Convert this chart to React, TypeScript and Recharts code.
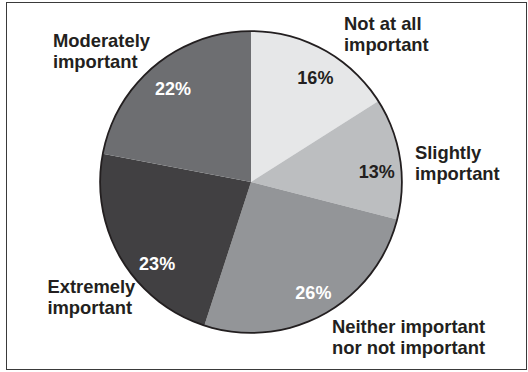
import { PieChart, Pie, Cell } from "recharts";

const CATEGORIES = [
  "Not at all important",
  "Slightly important",
  "Neither important nor not important",
  "Extremely important",
  "Moderately important",
];
const LABEL_LINES = [
  ["Not at all", "important"],
  ["Slightly", "important"],
  ["Neither important", "nor not important"],
  ["Extremely", "important"],
  ["Moderately", "important"],
];
const SHARES = [16, 13, 26, 23, 22];
const COLORS = ["#e6e7e8", "#bcbec0", "#939598", "#414042", "#6d6e71"];
const PCT_TEXT = ["#231f20", "#231f20", "#ffffff", "#ffffff", "#ffffff"];

// layout nudges for the outside names (left edge of block) and the percentages
const NAME_NUDGE = [
  [12, -1],
  [-2, 7],
  [0, 8],
  [-59, 29],
  [-91, -2],
];
const PCT_NUDGE = [
  [4, 6],
  [2, 10],
  [2, 1],
  [14, 18],
  [2, 4],
];

const data = CATEGORIES.map((name, i) => ({ name, value: SHARES[i] }));
const ring = [{ name: "outline", value: 1 }];

const FONT = "Arial, 'Liberation Sans', Helvetica, sans-serif";
const RAD = Math.PI / 180;

function renderLabel(props: any) {
  const { cx, cy, midAngle, outerRadius, index, value } = props;
  const cos = Math.cos(-midAngle * RAD);
  const sin = Math.sin(-midAngle * RAD);

  const pr = outerRadius * 0.83;
  const px = cx + pr * cos + PCT_NUDGE[index][0];
  const py = cy + pr * sin + PCT_NUDGE[index][1];

  const nr = outerRadius + 17;
  const nx = cx + nr * cos + NAME_NUDGE[index][0];
  const ny = cy + nr * sin + NAME_NUDGE[index][1];
  const lines = LABEL_LINES[index];

  return (
    <g>
      <text
        x={px}
        y={py}
        textAnchor="middle"
        dominantBaseline="central"
        fill={PCT_TEXT[index]}
        fontFamily={FONT}
        fontWeight="bold"
        fontSize={18}
      >
        {value}%
      </text>
      <text
        x={nx}
        y={ny - 4}
        textAnchor="start"
        fill="#231f20"
        fontFamily={FONT}
        fontWeight="bold"
        fontSize={18.4}
      >
        {lines.map((line, i) => (
          <tspan key={i} x={nx} dy={i === 0 ? 0 : 21}>
            {line}
          </tspan>
        ))}
      </text>
    </g>
  );
}

export default function App() {
  return (
    <div
      style={{
        position: "absolute",
        left: 0,
        top: 0,
        width: 528,
        height: 372,
        background: "#ffffff",
      }}
    >
      <div
        style={{
          position: "absolute",
          left: 6,
          top: 2,
          width: 519,
          height: 366,
          border: "1.5px solid #3a3a3a",
        }}
      />
      <PieChart
        width={528}
        height={372}
        margin={{ top: 0, right: 0, bottom: 0, left: 0 }}
        style={{ position: "absolute", left: 0, top: 0 }}
      >
        <Pie
          data={data}
          dataKey="value"
          nameKey="name"
          cx={251}
          cy={182}
          outerRadius={151}
          startAngle={90}
          endAngle={-270}
          stroke="none"
          label={renderLabel}
          labelLine={false}
          isAnimationActive={false}
        >
          {data.map((d, i) => (
            <Cell key={d.name} fill={COLORS[i]} />
          ))}
        </Pie>
        <Pie
          data={ring}
          dataKey="value"
          cx={251}
          cy={182}
          innerRadius={150}
          outerRadius={151.8}
          startAngle={90}
          endAngle={-270}
          fill="#231f20"
          stroke="none"
          isAnimationActive={false}
        />
      </PieChart>
    </div>
  );
}
